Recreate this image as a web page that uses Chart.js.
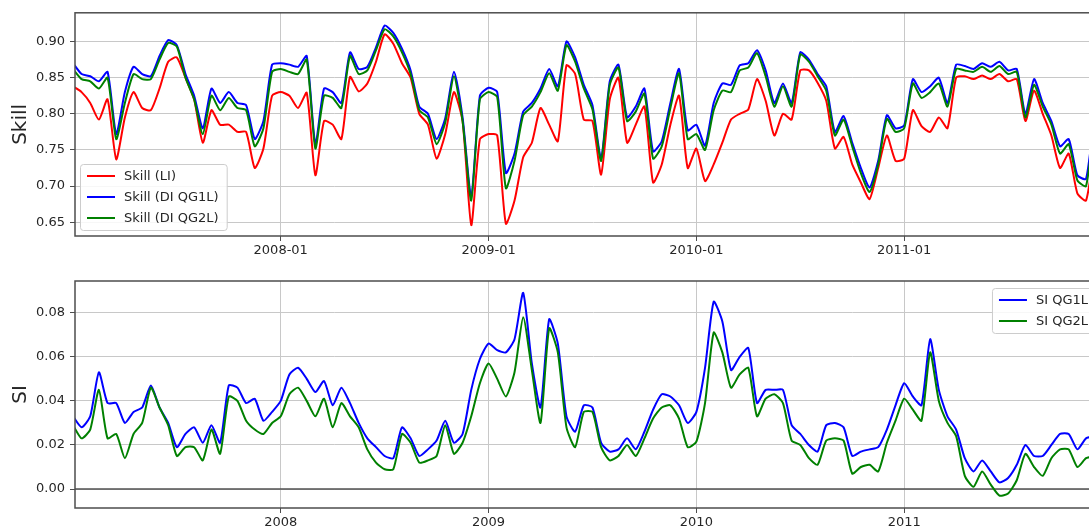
<!DOCTYPE html>
<html>
<head>
<meta charset="utf-8">
<script src="https://cdn.jsdelivr.net/npm/chart.js@4.4.0/dist/chart.umd.min.js"></script>
<style>
html, body { margin: 0; padding: 0; background: #fff; overflow: hidden; }
#wrap { position: relative; width: 1120px; height: 532px; }
canvas { position: absolute; left: 0; }
</style>
</head>
<body>
<div id="wrap">
  <canvas id="skillChart" width="1120" height="265" style="top:0"></canvas>
  <canvas id="siChart" width="1120" height="267" style="top:265px"></canvas>
</div>
<script>
// half-monthly samples, starting Jan 2007
var startYear = 2007;
var perYear = 24;

var skillLI = [
  0.838, 0.830, 0.815, 0.792, 0.820, 0.737, 0.795, 0.830, 0.808, 0.805, 0.835, 0.872,
  0.878, 0.850, 0.820, 0.760, 0.805, 0.785, 0.785, 0.775, 0.775, 0.725, 0.752, 0.825,
  0.830, 0.825, 0.808, 0.829, 0.715, 0.790, 0.785, 0.765, 0.851, 0.831, 0.842, 0.872,
  0.910, 0.897, 0.870, 0.850, 0.800, 0.785, 0.738, 0.772, 0.830, 0.790, 0.646, 0.765,
  0.772, 0.770, 0.648, 0.680, 0.740, 0.760, 0.808, 0.785, 0.762, 0.867, 0.855, 0.792,
  0.790, 0.716, 0.820, 0.850, 0.760, 0.785, 0.810, 0.705, 0.730, 0.785, 0.825, 0.725,
  0.752, 0.707, 0.730, 0.760, 0.792, 0.800, 0.806, 0.848, 0.818, 0.770, 0.800, 0.792,
  0.860, 0.860, 0.843, 0.818, 0.752, 0.768, 0.730, 0.705, 0.682, 0.725, 0.770, 0.735,
  0.738, 0.805, 0.783, 0.775, 0.795, 0.780, 0.850, 0.852, 0.848, 0.853, 0.848, 0.855,
  0.845, 0.848, 0.790, 0.832, 0.800, 0.770, 0.725, 0.745, 0.690, 0.680, 0.745, 0.760
];
var skillQG1L = [
  0.870, 0.855, 0.852, 0.845, 0.858, 0.772, 0.830, 0.865, 0.855, 0.852, 0.880, 0.902,
  0.895, 0.855, 0.825, 0.780, 0.835, 0.815, 0.830, 0.815, 0.812, 0.765, 0.790, 0.868,
  0.870, 0.868, 0.865, 0.880, 0.758, 0.835, 0.830, 0.815, 0.885, 0.862, 0.865, 0.892,
  0.922, 0.912, 0.890, 0.860, 0.810, 0.800, 0.765, 0.794, 0.858, 0.795, 0.685, 0.825,
  0.836, 0.830, 0.718, 0.745, 0.803, 0.815, 0.835, 0.862, 0.838, 0.900, 0.878, 0.840,
  0.812, 0.738, 0.845, 0.868, 0.795, 0.810, 0.835, 0.748, 0.762, 0.815, 0.862, 0.777,
  0.785, 0.756, 0.815, 0.842, 0.840, 0.867, 0.870, 0.888, 0.860, 0.815, 0.842, 0.815,
  0.885, 0.875, 0.855, 0.838, 0.775, 0.797, 0.760, 0.725, 0.698, 0.735, 0.798, 0.780,
  0.784, 0.848, 0.830, 0.838, 0.850, 0.815, 0.868, 0.866, 0.862, 0.870, 0.865, 0.872,
  0.860, 0.862, 0.800, 0.848, 0.815, 0.790, 0.755, 0.765, 0.715, 0.710, 0.790, 0.800
];
var skillQG2L = [
  0.862, 0.848, 0.845, 0.835, 0.850, 0.765, 0.815, 0.855, 0.848, 0.848, 0.875, 0.898,
  0.893, 0.850, 0.820, 0.772, 0.825, 0.805, 0.822, 0.808, 0.805, 0.755, 0.780, 0.858,
  0.862, 0.858, 0.855, 0.875, 0.752, 0.825, 0.822, 0.808, 0.880, 0.855, 0.860, 0.888,
  0.917, 0.907, 0.885, 0.855, 0.805, 0.795, 0.758, 0.788, 0.852, 0.790, 0.680, 0.820,
  0.830, 0.823, 0.697, 0.735, 0.798, 0.810, 0.830, 0.856, 0.832, 0.895, 0.872, 0.835,
  0.806, 0.735, 0.840, 0.864, 0.790, 0.803, 0.828, 0.738, 0.755, 0.808, 0.856, 0.765,
  0.772, 0.750, 0.805, 0.832, 0.830, 0.860, 0.864, 0.884, 0.852, 0.810, 0.838, 0.810,
  0.882, 0.872, 0.852, 0.832, 0.770, 0.792, 0.755, 0.718, 0.692, 0.730, 0.793, 0.775,
  0.780, 0.842, 0.822, 0.830, 0.842, 0.810, 0.862, 0.860, 0.858, 0.865, 0.858, 0.866,
  0.855, 0.858, 0.795, 0.840, 0.810, 0.785, 0.745, 0.758, 0.708, 0.700, 0.780, 0.792
];

var siQG1L = [
  0.033, 0.028, 0.033, 0.053, 0.039, 0.039, 0.030, 0.035, 0.037, 0.047, 0.037, 0.030,
  0.019, 0.025, 0.028, 0.021, 0.029, 0.021, 0.047, 0.046, 0.039, 0.041, 0.031, 0.035,
  0.040, 0.052, 0.055, 0.050, 0.044, 0.049, 0.038, 0.046, 0.039, 0.030, 0.023, 0.019,
  0.015, 0.014, 0.028, 0.023, 0.015, 0.018, 0.022, 0.031, 0.021, 0.025, 0.045, 0.059,
  0.066, 0.063, 0.062, 0.068, 0.089, 0.057, 0.037, 0.077, 0.066, 0.033, 0.026, 0.038,
  0.037, 0.021, 0.017, 0.018, 0.023, 0.018, 0.026, 0.036, 0.043, 0.042, 0.038, 0.030,
  0.035, 0.055, 0.085, 0.076, 0.054, 0.060, 0.064, 0.039, 0.045, 0.045, 0.045, 0.029,
  0.025, 0.020, 0.017, 0.029, 0.030, 0.028, 0.015, 0.017, 0.018, 0.019, 0.027, 0.038,
  0.048, 0.042, 0.038, 0.068, 0.045, 0.033, 0.027, 0.014, 0.008, 0.013, 0.008, 0.003,
  0.005, 0.011, 0.020, 0.015, 0.015, 0.020, 0.025, 0.025, 0.018, 0.023, 0.024, 0.025
];
var siQG2L = [
  0.029, 0.023, 0.027, 0.045, 0.023, 0.025, 0.014, 0.025, 0.030, 0.046, 0.037, 0.029,
  0.015, 0.019, 0.019, 0.013, 0.027, 0.016, 0.042, 0.040, 0.031, 0.027, 0.025, 0.030,
  0.033, 0.043, 0.046, 0.040, 0.033, 0.041, 0.028, 0.039, 0.033, 0.028, 0.018, 0.012,
  0.009, 0.009, 0.025, 0.021, 0.012, 0.013, 0.015, 0.029, 0.016, 0.021, 0.033, 0.048,
  0.057, 0.050, 0.042, 0.053, 0.078, 0.054, 0.030, 0.073, 0.062, 0.028, 0.019, 0.035,
  0.035, 0.019, 0.013, 0.015, 0.020, 0.015, 0.023, 0.032, 0.037, 0.038, 0.032, 0.019,
  0.0215, 0.039, 0.071, 0.062, 0.046, 0.052, 0.055, 0.033, 0.041, 0.043, 0.039, 0.022,
  0.020, 0.014, 0.011, 0.022, 0.023, 0.022, 0.007, 0.010, 0.011, 0.008, 0.021, 0.031,
  0.041, 0.036, 0.031, 0.062, 0.040, 0.030, 0.024, 0.006, 0.001, 0.008, 0.002, -0.003,
  -0.002, 0.004, 0.016, 0.010, 0.006, 0.014, 0.018, 0.018, 0.010, 0.014, 0.015, 0.016
];

var yearTicks = [2008, 2009, 2010, 2011];
var skillTicks = [0.65, 0.70, 0.75, 0.80, 0.85, 0.90];
var siTicks = [0.00, 0.02, 0.04, 0.06, 0.08];

var FONT = '"DejaVu Sans", sans-serif';
var TEXT = '#262626';

function points(arr) {
  return arr.map(function(v, k) { return { x: startYear + k / perYear, y: v }; });
}

// matplotlib style frame + optional zero line
var frame = {
  id: 'frame',
  beforeDatasetsDraw: function(chart, args, opts) {
    if (!opts.zeroLine) return;
    var a = chart.chartArea, ctx = chart.ctx;
    var y = chart.scales.y.getPixelForValue(0);
    ctx.save();
    ctx.strokeStyle = '#505050';
    ctx.lineWidth = 1.6;
    ctx.beginPath();
    ctx.moveTo(a.left, y);
    ctx.lineTo(a.right, y);
    ctx.stroke();
    ctx.restore();
  },
  afterDatasetsDraw: function(chart) {
    var a = chart.chartArea, ctx = chart.ctx;
    ctx.save();
    ctx.strokeStyle = '#4d4d4d';
    ctx.lineWidth = 1.5;
    ctx.strokeRect(a.left, a.top, a.right - a.left, a.bottom - a.top);
    ctx.restore();
  }
};

// legend box drawn inside the plot, like matplotlib's
var boxLegend = {
  id: 'boxLegend',
  afterDraw: function(chart, args, opts) {
    var ctx = chart.ctx, a = chart.chartArea;
    var sets = chart.data.datasets;
    ctx.save();
    ctx.font = '13px ' + FONT;
    var textW = Math.max.apply(null, sets.map(function(d) { return ctx.measureText(d.label).width; }));
    var w = 44 + textW + 8, rowH = 21, h = 24 + (sets.length - 1) * rowH;
    var x, y;
    if (opts.corner === 'lowerleft') { x = a.left + 5; y = a.bottom - 6 - h; }
    else { x = a.right - 16 - w; y = a.top + 7; }
    ctx.fillStyle = 'rgba(255,255,255,0.85)';
    ctx.strokeStyle = '#cccccc';
    ctx.lineWidth = 1;
    ctx.beginPath();
    ctx.roundRect(x + 0.5, y + 0.5, w, h, 3);
    ctx.fill();
    ctx.stroke();
    sets.forEach(function(d, i) {
      var cy = y + 12 + i * rowH;
      ctx.strokeStyle = d.borderColor;
      ctx.lineWidth = 2;
      ctx.beginPath();
      ctx.moveTo(x + 7, cy);
      ctx.lineTo(x + 35, cy);
      ctx.stroke();
      ctx.fillStyle = TEXT;
      ctx.textBaseline = 'middle';
      ctx.fillText(d.label, x + 44, cy + 1);
    });
    ctx.restore();
  }
};

function lineSet(label, arr, color, order) {
  return {
    label: label,
    data: points(arr),
    borderColor: color,
    backgroundColor: color,
    borderWidth: 2,
    pointRadius: 0,
    tension: 0.2,
    order: order
  };
}

function makeOptions(yMin, yMax, yTickVals, yDigits, yTitle, xLabel, topPad, xHeight, legendCorner, zeroLine) {
  return {
    responsive: false,
    animation: false,
    layout: { padding: { top: topPad, right: 8, left: 0, bottom: 0 } },
    plugins: {
      legend: { display: false },
      tooltip: { enabled: false },
      boxLegend: { corner: legendCorner },
      frame: { zeroLine: zeroLine }
    },
    scales: {
      x: {
        type: 'linear',
        min: 2007.01,
        max: 2012.0,
        afterBuildTicks: function(s) { s.ticks = yearTicks.map(function(v) { return { value: v }; }); },
        afterFit: function(s) { s.height = xHeight; },
        border: { display: false },
        grid: { color: '#c8c8c8', lineWidth: 1, tickLength: 5, tickColor: '#4d4d4d' },
        ticks: {
          autoSkip: false, maxRotation: 0, padding: 2,
          color: TEXT, font: { family: FONT, size: 13 },
          callback: function(v) { return xLabel(v); }
        }
      },
      y: {
        min: yMin,
        max: yMax,
        afterBuildTicks: function(s) { s.ticks = yTickVals.map(function(v) { return { value: v }; }); },
        afterFit: function(s) { s.width = 75; },
        border: { display: false },
        grid: { color: '#c8c8c8', lineWidth: 1, tickLength: 5, tickColor: '#4d4d4d' },
        ticks: {
          padding: 5, color: TEXT, font: { family: FONT, size: 13 },
          callback: function(v) { return Number(v).toFixed(yDigits); }
        },
        title: {
          display: true, text: yTitle, color: TEXT,
          font: { family: FONT, size: 20 },
          padding: { top: 9, bottom: 0 }
        }
      }
    }
  };
}

new Chart(document.getElementById('skillChart').getContext('2d'), {
  type: 'line',
  data: {
    datasets: [
      lineSet('Skill (LI)', skillLI, '#ff0000', 3),
      lineSet('Skill (DI QG1L)', skillQG1L, '#0000ff', 2),
      lineSet('Skill (DI QG2L)', skillQG2L, '#008000', 1)
    ]
  },
  options: makeOptions(0.631, 0.9397, skillTicks, 2, 'Skill',
    function(v) { return v + '-01'; }, 8, 29, 'lowerleft', false),
  plugins: [frame, boxLegend]
});

new Chart(document.getElementById('siChart').getContext('2d'), {
  type: 'line',
  data: {
    datasets: [
      lineSet('SI QG1L', siQG1L, '#0000ff', 2),
      lineSet('SI QG2L', siQG2L, '#008000', 1)
    ]
  },
  options: makeOptions(-0.0086, 0.0944, siTicks, 2, 'SI',
    function(v) { return String(v); }, 16, 24, 'upperright', true),
  plugins: [frame, boxLegend]
});
</script>
</body>
</html>
